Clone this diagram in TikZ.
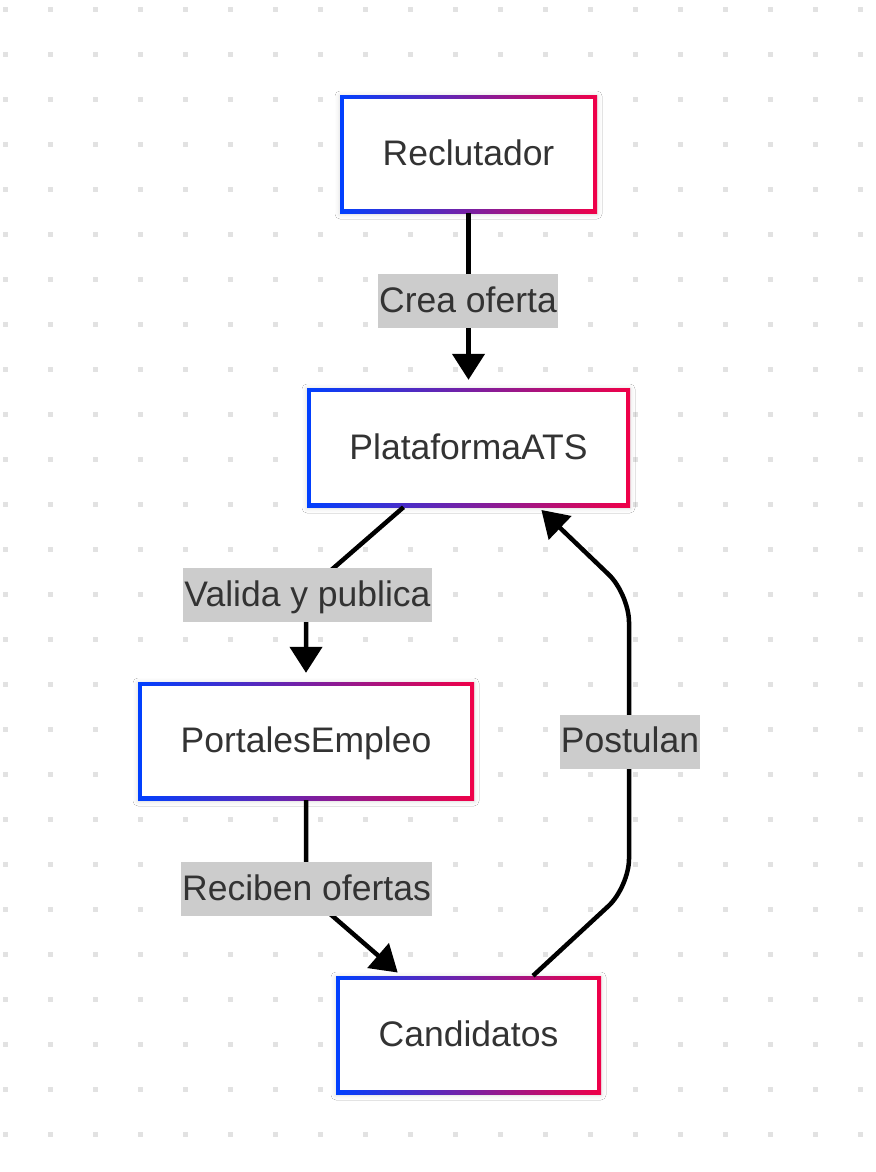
\documentclass[tikz,border=0pt]{standalone}
\usepackage{fontspec}
\setmainfont{Liberation Sans}
\usetikzlibrary{arrows.meta,calc,shadows.blur}
\definecolor{gl}{RGB}{0,64,255}
\definecolor{gr}{RGB}{240,0,72}
\definecolor{txt}{RGB}{51,51,51}
\definecolor{lblbg}{RGB}{204,204,204}
\definecolor{dotc}{RGB}{226,226,226}
\tikzset{
  outerbox/.style={inner sep=0pt, left color=gl, right color=gr, draw=none,
    blur shadow={shadow blur radius=5pt, shadow xshift=0pt, shadow yshift=-1pt, shadow opacity=15}},
  innerbox/.style={fill=white, inner sep=0pt, font=\fontsize{35.5}{40}\selectfont, text=txt,
    text height=25pt, text depth=2pt},
  lbl/.style={fill=lblbg, inner xsep=1pt, inner ysep=0pt, minimum height=54pt,
    font=\fontsize{35.5}{40}\selectfont, text=txt, text height=25pt, text depth=3pt},
  conn/.style={line width=4.5pt, rounded corners=28pt},
  arr/.style={-{Triangle[length=26pt,width=32pt]}}
}
\begin{document}
\begin{tikzpicture}[x=1pt,y=-1pt]
\useasboundingbox (0,0) rectangle (875,1172);
\fill[white] (0,0) rectangle (875,1172);
% dotted grid
\foreach \i in {0,...,19}{
  \foreach \j in {0,...,25}{
    \fill[dotc] ({3+45*\i},{7+45*\j}) rectangle ++(5,5);
  }
}
% boxes
\node[outerbox, minimum width=257pt, minimum height=118pt] (rec) at (468.5,154) {};
\node[innerbox, minimum width=249pt, minimum height=110pt] (recT) at (rec.center) {Reclutador};
\node[outerbox, minimum width=323pt, minimum height=119pt] (ats) at (468.5,447.5) {};
\node[innerbox, minimum width=315pt, minimum height=111pt] (atsT) at (ats.center) {PlataformaATS};
\node[outerbox, minimum width=336pt, minimum height=118pt] (port) at (306,741) {};
\node[innerbox, minimum width=328pt, minimum height=110pt] (portT) at (port.center) {PortalesEmpleo};
\node[outerbox, minimum width=265pt, minimum height=118pt] (cand) at (468.5,1035) {};
\node[innerbox, minimum width=257pt, minimum height=110pt] (candT) at (cand.center) {Candidatos};
% bend points
\coordinate (c2) at (306,592);
\coordinate (c3) at (306,893);
\coordinate (c4a) at (629,887);
\coordinate (c4b) at (629,594);
% connectors
\draw[conn,arr,shorten >=8pt] (rec) -- (ats);
\draw[conn,arr,shorten >=9pt] ($(ats.south)+(-65,0)$) -- (c2) -- (port.north);
\draw[conn,arr,shorten >=5pt] (port.south) -- (c3) -- ($(cand.north)+(-67,0)$);
\draw[conn,arr,shorten >=4pt] ($(cand.north)+(64.5,0)$) -- (c4a) -- (c4b) -- ($(ats.south)+(70,0)$);
% labels
\node[lbl] (l1) at (468,301) {Crea oferta};
\node[lbl] (l2) at (307.5,595) {Valida y publica};
\node[lbl] (l3) at (306.5,889) {Reciben ofertas};
\node[lbl] (l4) at (630,741.5) {Postulan};
\end{tikzpicture}
\end{document}
